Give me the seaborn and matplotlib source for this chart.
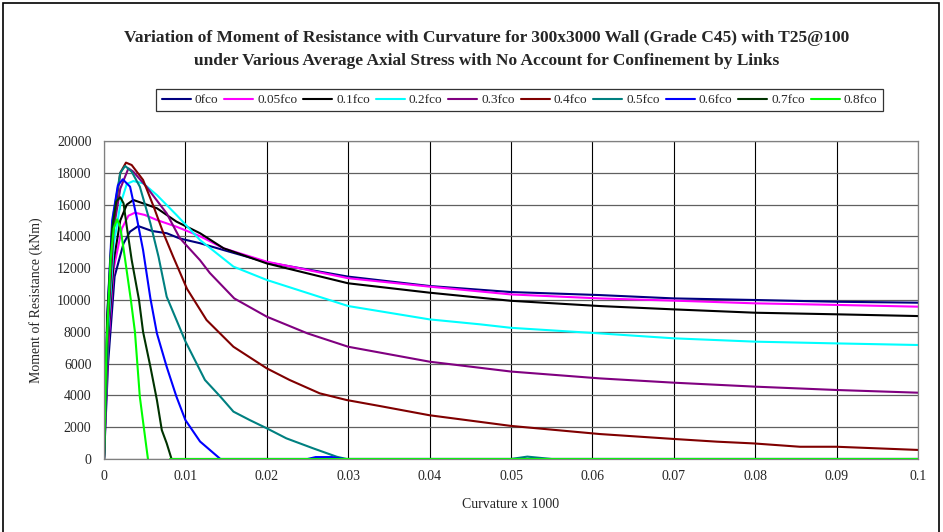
import pandas as pd
import numpy as np
import matplotlib
matplotlib.use('Agg')
import matplotlib.pyplot as plt
import seaborn as sns
from matplotlib.patches import Rectangle

# Moment-curvature curves
labels = ['0fco', '0.05fco', '0.1fco', '0.2fco', '0.3fco',
          '0.4fco', '0.5fco', '0.6fco', '0.7fco', '0.8fco']
colours = ['#000080', '#FF00FF', '#000000', '#00FFFF', '#800080',
           '#800000', '#008080', '#0000FF', '#003300', '#00FF00']

x_0 = [0, 0.0005, 0.0013, 0.0024, 0.0032, 0.0042, 0.0059, 0.0077, 0.0093, 0.0118,
       0.0147, 0.02, 0.03, 0.04, 0.05, 0.0609, 0.07, 0.08, 0.09, 0.1]
y_0 = [0, 6000, 11470, 13560, 14300, 14650, 14340, 14200, 13870, 13570,
       13140, 12370, 11470, 10880, 10500, 10310, 10100, 10000, 9890, 9830]

x_005 = [0, 0.0005, 0.0012, 0.0022, 0.003, 0.0038, 0.005, 0.0065, 0.0089, 0.0118,
         0.0147, 0.02, 0.03, 0.04, 0.05, 0.0609, 0.07, 0.08, 0.09, 0.1]
y_005 = [0, 7000, 12000, 14500, 15300, 15490, 15350, 15030, 14610, 14010,
         13250, 12410, 11370, 10840, 10350, 10100, 9960, 9790, 9690, 9580]

x_01 = [0, 0.0005, 0.0012, 0.002, 0.0028, 0.0036, 0.0048, 0.0065, 0.0089, 0.0118,
        0.0147, 0.02, 0.03, 0.04, 0.05, 0.0609, 0.07, 0.08, 0.09, 0.1]
y_01 = [0, 7500, 12500, 15000, 16000, 16290, 16080, 15770, 14930, 14200,
        13250, 12300, 11050, 10460, 9950, 9620, 9410, 9200, 9100, 8990]

x_02 = [0, 0.0005, 0.0012, 0.002, 0.0028, 0.0036, 0.0048, 0.0065, 0.0089, 0.0118,
        0.0159, 0.02, 0.03, 0.04, 0.0462, 0.05, 0.0609, 0.07, 0.08, 0.09, 0.1]
y_02 = [0, 8000, 13500, 16000, 17300, 17480, 17340, 16600, 15350, 13770,
        12100, 11260, 9620, 8780, 8470, 8250, 7900, 7590, 7380, 7270, 7170]

x_03 = [0, 0.0005, 0.0012, 0.002, 0.003, 0.0036, 0.0052, 0.0077, 0.0093, 0.0118,
        0.013, 0.016, 0.02, 0.025, 0.03, 0.04, 0.05, 0.0609, 0.07, 0.08, 0.09, 0.1]
y_03 = [0, 8500, 14500, 17000, 18280, 18070, 17130, 15450, 13900, 12500,
        11700, 10100, 8950, 7900, 7060, 6120, 5500, 5070, 4800, 4550, 4340, 4170]

x_04 = [0, 0.0005, 0.0012, 0.002, 0.0027, 0.0034, 0.0048, 0.0061, 0.0073, 0.0085,
        0.0102, 0.0126, 0.0159, 0.02, 0.0228, 0.0265, 0.0298, 0.0339, 0.04, 0.05,
        0.0609, 0.07, 0.0753, 0.0798, 0.0855, 0.09, 0.1]
y_04 = [0, 9000, 15000, 18000, 18640, 18490, 17550, 15870, 14200, 12720,
        10700, 8740, 7060, 5700, 4970, 4130, 3710, 3330, 2750, 2080,
        1570, 1260, 1090, 980, 770, 770, 570]

x_05 = [0, 0.0005, 0.0012, 0.002, 0.0026, 0.0034, 0.0044, 0.0057, 0.0067, 0.0077,
        0.01, 0.0124, 0.0143, 0.0159, 0.0179, 0.02, 0.0224, 0.0257, 0.0286, 0.0298,
        0.05, 0.052, 0.055, 0.1]
y_05 = [0, 9500, 15500, 18000, 18430, 18070, 17130, 14820, 12720, 10210,
        7400, 4970, 3920, 2980, 2450, 1930, 1300, 670, 140, 0,
        0, 150, 0, 0]

x_06 = [0, 0.0004, 0.001, 0.0017, 0.0023, 0.0032, 0.004, 0.0048, 0.0057, 0.0065,
        0.0077, 0.0089, 0.01, 0.0118, 0.0143, 0.025, 0.026, 0.028, 0.0295, 0.1]
y_06 = [0, 9000, 15000, 17200, 17590, 17130, 15240, 13140, 10100, 7900,
        5800, 3920, 2450, 1100, 0, 0, 120, 120, 0, 0]

x_07 = [0, 0.0004, 0.001, 0.0015, 0.002, 0.0024, 0.0028, 0.0034, 0.0043, 0.0048,
        0.0057, 0.0065, 0.0071, 0.0077, 0.0083, 0.1]
y_07 = [0, 9000, 14500, 16200, 16460, 16080, 14610, 12520, 10000, 8000,
        5800, 3710, 1820, 990, 0, 0]

x_08 = [0, 0.0003, 0.0008, 0.0012, 0.0016, 0.002, 0.0026, 0.0033, 0.0038, 0.0044,
        0.0052, 0.0054]
y_08 = [0, 7000, 12500, 14500, 15070, 14610, 12520, 10000, 8000, 3920,
        770, 0]
# zero line that the 0.8fco series draws along the axis
x_08_tail = [0.0081, 0.1]
y_08_tail = [0, 0]

xs = [x_0, x_005, x_01, x_02, x_03, x_04, x_05, x_06, x_07, x_08, x_08_tail]
ys = [y_0, y_005, y_01, y_02, y_03, y_04, y_05, y_06, y_07, y_08, y_08_tail]
names = labels + ['0.8fco']

frames = []
for i, (name, x, y) in enumerate(zip(names, xs, ys)):
    frames.append(pd.DataFrame({'curv': x, 'moment': y, 'series': name, 'seg': i}))
df = pd.concat(frames, ignore_index=True)

sns.set_style('white')
plt.rcParams['font.family'] = ['Liberation Serif', 'DejaVu Serif']

fig = plt.figure(figsize=(9.43, 5.32), dpi=100)
ax = fig.add_axes([104 / 943, 73 / 532, 814 / 943, 318 / 532])

sns.lineplot(data=df, x='curv', y='moment', hue='series', units='seg',
             estimator=None, sort=False, hue_order=labels,
             palette=dict(zip(labels, colours)), linewidth=1.5, ax=ax)

ax.set_xlim(0, 0.1)
ax.set_ylim(0, 20000)
ax.set_xticks(np.arange(0, 0.1001, 0.01))
ax.set_xticklabels(['0', '0.01', '0.02', '0.03', '0.04', '0.05',
                    '0.06', '0.07', '0.08', '0.09', '0.1'])
ax.set_yticks(np.arange(0, 20001, 2000))
ax.tick_params(axis='both', direction='out', length=4, width=0.8,
               color='#808080', labelsize=10)
ax.tick_params(axis='x', pad=4)
ax.tick_params(axis='y', pad=5)
ax.grid(axis='x', color='black', linewidth=0.8)
ax.grid(axis='y', color='#606060', linewidth=0.9)
ax.set_axisbelow(True)
for s in ax.spines.values():
    s.set_color('#808080')
    s.set_linewidth(0.9)

ax.set_xlabel('Curvature x 1000', fontsize=10, labelpad=11)
ax.set_ylabel('Moment of Resistance (kNm)', fontsize=10, labelpad=10)

fig.text(0.516, 0.929,
         'Variation of Moment of Resistance with Curvature for 300x3000 Wall (Grade C45) with T25@100',
         ha='center', va='center', fontsize=12.5, fontweight='bold')
fig.text(0.516, 0.885,
         'under Various Average Axial Stress with No Account for Confinement by Links',
         ha='center', va='center', fontsize=12.5, fontweight='bold')

ax.get_legend().remove()
handles, _ = ax.get_legend_handles_labels()
leg = fig.legend(handles[:10], labels, loc='center', bbox_to_anchor=(0.551, 0.812),
                 ncol=10, fontsize=9.5, frameon=True, fancybox=False,
                 edgecolor='black', handlelength=2.2, handletextpad=0.3,
                 columnspacing=0.45, borderpad=0.4)
leg.get_frame().set_linewidth(0.9)

# outer chart border
fig.patches.append(Rectangle((3 / 943, -0.02), 936 / 943, 1.0 - 3 / 532 + 0.02,
                             transform=fig.transFigure, fill=False,
                             edgecolor='black', linewidth=1.2))

fig.savefig('out.png', dpi=100)
